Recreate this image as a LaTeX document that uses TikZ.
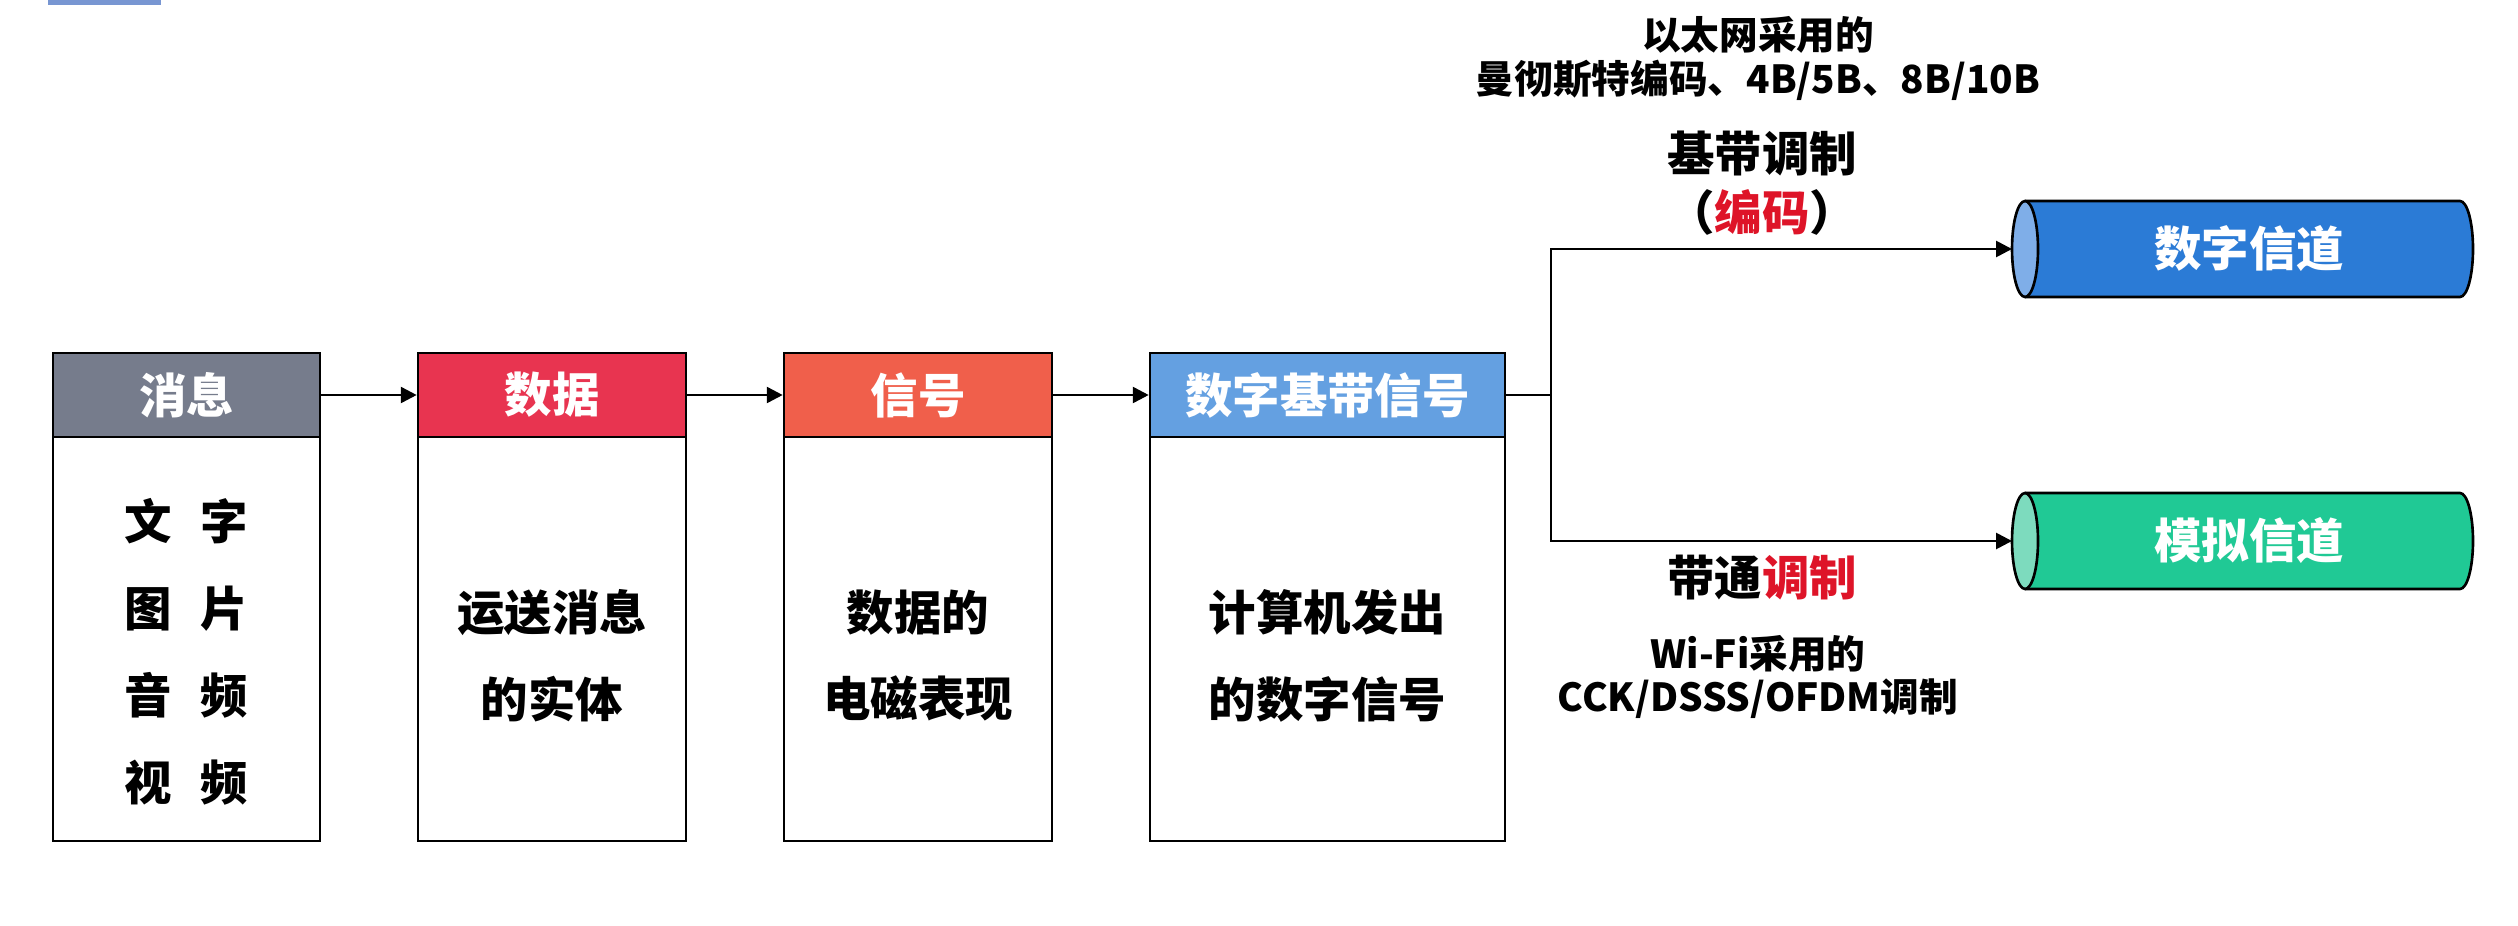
\documentclass[tikz,border=0pt]{standalone}
\usepackage{fontspec}
\setmainfont{Noto Sans CJK SC}
\usetikzlibrary{arrows.meta}
\definecolor{hgray}{RGB}{118,124,140}
\definecolor{hred}{RGB}{232,52,80}
\definecolor{horange}{RGB}{240,95,75}
\definecolor{hblue}{RGB}{100,160,225}
\definecolor{cblue}{RGB}{43,123,214}
\definecolor{cbluecap}{RGB}{127,174,232}
\definecolor{cgreen}{RGB}{32,201,149}
\definecolor{cgreencap}{RGB}{125,219,190}
\definecolor{kred}{RGB}{222,20,40}
\definecolor{topbar}{RGB}{120,150,210}
\tikzset{
  hdr/.style={draw=black, line width=1.5pt, minimum height=1.68cm, inner sep=0pt, text=white, font=\bfseries\fontsize{27}{30}\selectfont},
  bodybox/.style={draw=black, line width=1.5pt, minimum height=8.08cm, inner sep=0pt, fill=white},
  bodytext/.style={align=center, font=\bfseries\fontsize{27}{49.5}\selectfont},
  conn/.style={line width=1.5pt, -{Triangle[length=9pt,width=9pt]}},
  plainline/.style={line width=1.5pt},
  biglabel/.style={align=center, font=\bfseries\fontsize{27}{30}\selectfont},
  smalllabel/.style={align=center, font=\bfseries\fontsize{22}{25.6}\selectfont},
  cyltext/.style={text=white, font=\bfseries\fontsize{27}{30}\selectfont},
  cylline/.style={draw=black, line width=1.5pt}
}
\begin{document}
\begin{tikzpicture}[x=0.02cm,y=-0.02cm]
\useasboundingbox (0,0) rectangle (2518,926);
\fill[white] (0,0) rectangle (2518,926);
\fill[topbar] (48,0) rectangle (161,5);

% boxes
\node[bodybox, minimum width=5.34cm] (b1) at (186.5,639) {};
\node[hdr, fill=hgray, minimum width=5.34cm] (h1) at (186.5,395) {消息};
\node[bodytext] (t1) at (186.5,652) {文\hspace{0.6em}字\\图\hspace{0.6em}片\\音\hspace{0.6em}频\\视\hspace{0.6em}频};

\node[bodybox, minimum width=5.36cm] (b2) at (552,639) {};
\node[hdr, fill=hred, minimum width=5.36cm] (h2) at (552,395) {数据};
\node[bodytext] (t2) at (552,655.5) {运送消息\\的实体};

\node[bodybox, minimum width=5.36cm] (b3) at (918,639) {};
\node[hdr, fill=horange, minimum width=5.36cm] (h3) at (918,395) {信号};
\node[bodytext] (t3) at (918,655.5) {数据的\\电磁表现};

\node[bodybox, minimum width=7.1cm] (b4) at (1327.5,639) {};
\node[hdr, fill=hblue, minimum width=7.1cm] (h4) at (1327.5,395) {数字基带信号};
\node[bodytext] (t4) at (1327.5,655.5) {计算机发出\\的数字信号};

% cylinders
\fill[cblue] (2025,201) -- (2460,201) arc[start angle=90,end angle=-90,x radius=0.26cm,y radius=0.96cm] -- (2025,297) -- cycle;
\draw[cylline] (2025,201) -- (2460,201) arc[start angle=90,end angle=-90,x radius=0.26cm,y radius=0.96cm] -- (2025,297);
\draw[cylline, fill=cbluecap] (2025,249) ellipse[x radius=0.26cm, y radius=0.96cm];
\coordinate (c1w) at (2012,249);
\node[cyltext] (c1) at (2249,249) {数字信道};

\fill[cgreen] (2025,493) -- (2460,493) arc[start angle=90,end angle=-90,x radius=0.26cm,y radius=0.96cm] -- (2025,589) -- cycle;
\draw[cylline] (2025,493) -- (2460,493) arc[start angle=90,end angle=-90,x radius=0.26cm,y radius=0.96cm] -- (2025,589);
\draw[cylline, fill=cgreencap] (2025,541) ellipse[x radius=0.26cm, y radius=0.96cm];
\coordinate (c2w) at (2012,541);
\node[cyltext] (c2) at (2249,541) {模拟信道};

% connectors
\draw[conn] (h1.east) -- (h2.west);
\draw[conn] (h2.east) -- (h3.west);
\draw[conn] (h3.east) -- (h4.west);
\coordinate (br) at (1551,395);
\draw[plainline] (h4.east) -- (br);
\draw[conn] (br) |- (c1w);
\draw[conn] (br) |- (c2w);

% labels
\node[smalllabel] (l1) at (1758,35) {以太网采用的};
\node[smalllabel] (l2) at (1758,80) {曼彻斯特编码、4B/5B、8B/10B};
\node[biglabel] (l3) at (1762,153) {基带调制};
\node[biglabel] (l4) at (1762,212) {（\textcolor{kred}{编码}）};
\node[biglabel] (l5) at (1762,578) {带通\textcolor{kred}{调制}};
\node[smalllabel] (l6) at (1758,654) {Wi-Fi采用的};
\node[smalllabel] (l7) at (1758,699) {CCK/DSSS/OFDM调制};
\end{tikzpicture}
\end{document}
